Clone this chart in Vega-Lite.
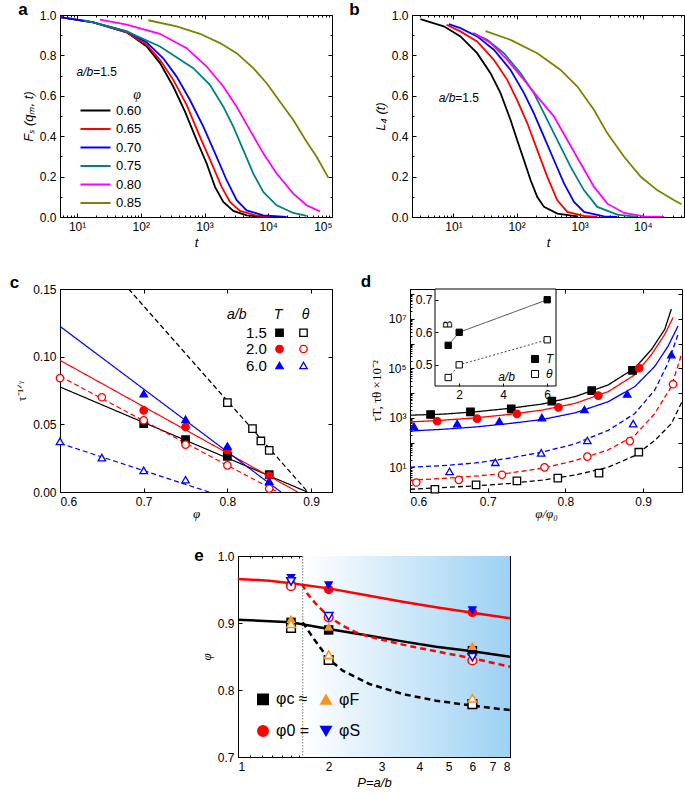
{
"$schema":"https://vega.github.io/schema/vega-lite/v6.json",
"padding":{"left":9,"top":0,"right":0,"bottom":0},
"config":{
 "font":"Liberation Sans",
 "view":{"stroke":"black","strokeWidth":1},
 "axis":{"grid":false,"domainColor":"black","tickColor":"black","labelColor":"black","titleColor":"black","labelFontSize":12,"titleFontSize":13,"titleFontWeight":"normal","tickSize":-4,"labelPadding":8,"labelFont":"Liberation Sans","titleFont":"Liberation Sans"},
 "legend":{"labelColor":"black","titleColor":"black","labelFont":"Liberation Sans","titleFont":"Liberation Sans"},
 "title":{"fontSize":17,"fontWeight":"bold","anchor":"start","frame":"bounds","color":"black","baseline":"alphabetic","offset":0}
},
"datasets":{
"a":[
{"phi":"0.60","t":5.4,"F":0.99},{"phi":"0.60","t":18,"F":0.964},{"phi":"0.60","t":60,"F":0.914},{"phi":"0.60","t":124,"F":0.844},{"phi":"0.60","t":200,"F":0.762},{"phi":"0.60","t":323,"F":0.646},{"phi":"0.60","t":494,"F":0.522},{"phi":"0.60","t":752,"F":0.381},{"phi":"0.60","t":1080,"F":0.265},{"phi":"0.60","t":1459,"F":0.149},{"phi":"0.60","t":1972,"F":0.075},{"phi":"0.60","t":2831,"F":0.03},{"phi":"0.60","t":4580,"F":0.008},{"phi":"0.60","t":9440,"F":0.0},
{"phi":"0.65","t":5.4,"F":0.99},{"phi":"0.65","t":18,"F":0.964},{"phi":"0.65","t":60,"F":0.914},{"phi":"0.65","t":124,"F":0.853},{"phi":"0.65","t":200,"F":0.778},{"phi":"0.65","t":323,"F":0.679},{"phi":"0.65","t":524,"F":0.555},{"phi":"0.65","t":849,"F":0.397},{"phi":"0.65","t":1294,"F":0.265},{"phi":"0.65","t":1857,"F":0.149},{"phi":"0.65","t":2508,"F":0.075},{"phi":"0.65","t":3600,"F":0.03},{"phi":"0.65","t":6570,"F":0.007},{"phi":"0.65","t":13540,"F":0.0},
{"phi":"0.70","t":5.4,"F":0.99},{"phi":"0.70","t":18,"F":0.964},{"phi":"0.70","t":60,"F":0.919},{"phi":"0.70","t":124,"F":0.864},{"phi":"0.70","t":225,"F":0.786},{"phi":"0.70","t":365,"F":0.695},{"phi":"0.70","t":591,"F":0.579},{"phi":"0.70","t":958,"F":0.447},{"phi":"0.70","t":1549,"F":0.298},{"phi":"0.70","t":2224,"F":0.182},{"phi":"0.70","t":3192,"F":0.083},{"phi":"0.70","t":4580,"F":0.033},{"phi":"0.70","t":8355,"F":0.008},{"phi":"0.70","t":19420,"F":0.0},
{"phi":"0.75","t":12.5,"F":0.974},{"phi":"0.75","t":18,"F":0.964},{"phi":"0.75","t":60,"F":0.919},{"phi":"0.75","t":200,"F":0.844},{"phi":"0.75","t":667,"F":0.737},{"phi":"0.75","t":1216,"F":0.654},{"phi":"0.75","t":1972,"F":0.546},{"phi":"0.75","t":2831,"F":0.447},{"phi":"0.75","t":4064,"F":0.331},{"phi":"0.75","t":5825,"F":0.215},{"phi":"0.75","t":8355,"F":0.124},{"phi":"0.75","t":13540,"F":0.058},{"phi":"0.75","t":24720,"F":0.02},{"phi":"0.75","t":40000,"F":0.005},
{"phi":"0.80","t":22.9,"F":0.977},{"phi":"0.80","t":60,"F":0.952},{"phi":"0.80","t":200,"F":0.907},{"phi":"0.80","t":524,"F":0.836},{"phi":"0.80","t":1080,"F":0.745},{"phi":"0.80","t":1972,"F":0.646},{"phi":"0.80","t":3192,"F":0.546},{"phi":"0.80","t":5165,"F":0.43},{"phi":"0.80","t":8355,"F":0.315},{"phi":"0.80","t":13540,"F":0.215},{"phi":"0.80","t":24720,"F":0.116},{"phi":"0.80","t":40000,"F":0.058},{"phi":"0.80","t":64860,"F":0.028},
{"phi":"0.85","t":131,"F":0.974},{"phi":"0.85","t":365,"F":0.944},{"phi":"0.85","t":849,"F":0.907},{"phi":"0.85","t":1749,"F":0.861},{"phi":"0.85","t":3192,"F":0.811},{"phi":"0.85","t":5825,"F":0.737},{"phi":"0.85","t":9440,"F":0.662},{"phi":"0.85","t":15280,"F":0.571},{"phi":"0.85","t":24720,"F":0.48},{"phi":"0.85","t":40000,"F":0.373},{"phi":"0.85","t":57400,"F":0.298},{"phi":"0.85","t":87500,"F":0.195}
],
"b":[
{"phi":"0.60","t":2.99,"L":0.98},{"phi":"0.60","t":7.02,"L":0.944},{"phi":"0.60","t":12.9,"L":0.894},{"phi":"0.60","t":23.7,"L":0.811},{"phi":"0.60","t":38.6,"L":0.712},{"phi":"0.60","t":55.7,"L":0.613},{"phi":"0.60","t":80.3,"L":0.48},{"phi":"0.60","t":102,"L":0.381},{"phi":"0.60","t":131,"L":0.281},{"phi":"0.60","t":167,"L":0.182},{"phi":"0.60","t":213,"L":0.099},{"phi":"0.60","t":272,"L":0.05},{"phi":"0.60","t":442,"L":0.017},{"phi":"0.60","t":918,"L":0.003},
{"phi":"0.65","t":7.74,"L":0.952},{"phi":"0.65","t":12.9,"L":0.919},{"phi":"0.65","t":23.7,"L":0.869},{"phi":"0.65","t":43.6,"L":0.778},{"phi":"0.65","t":71.1,"L":0.679},{"phi":"0.65","t":102,"L":0.579},{"phi":"0.65","t":148,"L":0.464},{"phi":"0.65","t":213,"L":0.331},{"phi":"0.65","t":307,"L":0.199},{"phi":"0.65","t":442,"L":0.083},{"phi":"0.65","t":637,"L":0.025},{"phi":"0.65","t":1172,"L":0.005},{"phi":"0.65","t":1906,"L":0.0},
{"phi":"0.70","t":8.43,"L":0.955},{"phi":"0.70","t":12.9,"L":0.935},{"phi":"0.70","t":23.7,"L":0.894},{"phi":"0.70","t":43.6,"L":0.828},{"phi":"0.70","t":80.3,"L":0.728},{"phi":"0.70","t":131,"L":0.613},{"phi":"0.70","t":188,"L":0.513},{"phi":"0.70","t":272,"L":0.397},{"phi":"0.70","t":392,"L":0.281},{"phi":"0.70","t":564,"L":0.166},{"phi":"0.70","t":813,"L":0.075},{"phi":"0.70","t":1172,"L":0.025},{"phi":"0.70","t":2432,"L":0.003},{"phi":"0.70","t":3960,"L":0.0},
{"phi":"0.75","t":19.8,"L":0.911},{"phi":"0.75","t":34.2,"L":0.877},{"phi":"0.75","t":62.9,"L":0.811},{"phi":"0.75","t":116,"L":0.712},{"phi":"0.75","t":188,"L":0.613},{"phi":"0.75","t":272,"L":0.513},{"phi":"0.75","t":442,"L":0.381},{"phi":"0.75","t":720,"L":0.248},{"phi":"0.75","t":1172,"L":0.132},{"phi":"0.75","t":1906,"L":0.05},{"phi":"0.75","t":3960,"L":0.012},{"phi":"0.75","t":8230,"L":0.0},
{"phi":"0.80","t":21.0,"L":0.911},{"phi":"0.80","t":38.6,"L":0.862},{"phi":"0.80","t":71.1,"L":0.778},{"phi":"0.80","t":131,"L":0.679},{"phi":"0.80","t":213,"L":0.596},{"phi":"0.80","t":392,"L":0.497},{"phi":"0.80","t":637,"L":0.381},{"phi":"0.80","t":1037,"L":0.265},{"phi":"0.80","t":1690,"L":0.149},{"phi":"0.80","t":2747,"L":0.066},{"phi":"0.80","t":5055,"L":0.02},{"phi":"0.80","t":10490,"L":0.003},{"phi":"0.80","t":21800,"L":0.0},
{"phi":"0.85","t":32.2,"L":0.92},{"phi":"0.85","t":80.3,"L":0.877},{"phi":"0.85","t":213,"L":0.811},{"phi":"0.85","t":499,"L":0.728},{"phi":"0.85","t":918,"L":0.646},{"phi":"0.85","t":1690,"L":0.53},{"phi":"0.85","t":2747,"L":0.414},{"phi":"0.85","t":5055,"L":0.298},{"phi":"0.85","t":9290,"L":0.199},{"phi":"0.85","t":17100,"L":0.132},{"phi":"0.85","t":31400,"L":0.083},{"phi":"0.85","t":41100,"L":0.063}
],
"c_lines":[
{"key":"T1.5","kind":"T","phi":0.6,"v":0.0776},{"key":"T1.5","kind":"T","phi":0.8955,"v":0},
{"key":"T2.0","kind":"T","phi":0.6,"v":0.0973},{"key":"T2.0","kind":"T","phi":0.884,"v":0},
{"key":"T6.0","kind":"T","phi":0.6,"v":0.1224},{"key":"T6.0","kind":"T","phi":0.864,"v":0},
{"key":"θ1.5","kind":"θ","phi":0.682,"v":0.15},{"key":"θ1.5","kind":"θ","phi":0.896,"v":0},
{"key":"θ2.0","kind":"θ","phi":0.6,"v":0.0855},{"key":"θ2.0","kind":"θ","phi":0.86,"v":0},
{"key":"θ6.0","kind":"θ","phi":0.6,"v":0.036},{"key":"θ6.0","kind":"θ","phi":0.778,"v":0}
],
"c_pts":[
{"key":"T1.5","phi":0.7,"v":0.0505},{"key":"T1.5","phi":0.75,"v":0.0387},{"key":"T1.5","phi":0.8,"v":0.0264},{"key":"T1.5","phi":0.85,"v":0.0128},
{"key":"θ1.5","phi":0.8,"v":0.066},{"key":"θ1.5","phi":0.83,"v":0.0468},{"key":"θ1.5","phi":0.84,"v":0.0377},{"key":"θ1.5","phi":0.85,"v":0.0308},
{"key":"T2.0","phi":0.7,"v":0.0603},{"key":"T2.0","phi":0.75,"v":0.048},{"key":"T2.0","phi":0.8,"v":0.031},{"key":"T2.0","phi":0.85,"v":0.012},
{"key":"θ2.0","phi":0.6,"v":0.0842},{"key":"θ2.0","phi":0.65,"v":0.07},{"key":"θ2.0","phi":0.7,"v":0.053},{"key":"θ2.0","phi":0.75,"v":0.035},{"key":"θ2.0","phi":0.8,"v":0.0197},{"key":"θ2.0","phi":0.85,"v":0.0025},
{"key":"T6.0","phi":0.7,"v":0.0727},{"key":"T6.0","phi":0.75,"v":0.0537},{"key":"T6.0","phi":0.8,"v":0.034},{"key":"T6.0","phi":0.85,"v":0.0081},
{"key":"θ6.0","phi":0.6,"v":0.0374},{"key":"θ6.0","phi":0.65,"v":0.0254},{"key":"θ6.0","phi":0.7,"v":0.016},{"key":"θ6.0","phi":0.75,"v":0.0091}
],
"d_lines":[
{"key":"T1.5","kind":"T","x":0.6,"y":1271},{"key":"T1.5","kind":"T","x":0.6415,"y":1396},{"key":"T1.5","kind":"T","x":0.6842,"y":1738},{"key":"T1.5","kind":"T","x":0.7269,"y":2377},{"key":"T1.5","kind":"T","x":0.7697,"y":3573},{"key":"T1.5","kind":"T","x":0.8124,"y":7129},{"key":"T1.5","kind":"T","x":0.8551,"y":21330},{"key":"T1.5","kind":"T","x":0.8893,"y":102100},{"key":"T1.5","kind":"T","x":0.9107,"y":571500},{"key":"T1.5","kind":"T","x":0.9278,"y":3750000},{"key":"T1.5","kind":"T","x":0.9363,"y":24550000},
{"key":"T2.0","kind":"T","x":0.6,"y":679},{"key":"T2.0","kind":"T","x":0.6415,"y":794},{"key":"T2.0","kind":"T","x":0.6842,"y":991},{"key":"T2.0","kind":"T","x":0.7269,"y":1355},{"key":"T2.0","kind":"T","x":0.7697,"y":2037},{"key":"T2.0","kind":"T","x":0.8124,"y":3802},{"key":"T2.0","kind":"T","x":0.8551,"y":11400},{"key":"T2.0","kind":"T","x":0.8893,"y":54580},{"key":"T2.0","kind":"T","x":0.9107,"y":357300},{"key":"T2.0","kind":"T","x":0.9278,"y":2344000},{"key":"T2.0","kind":"T","x":0.9385,"y":11220000},
{"key":"T6.0","kind":"T","x":0.6,"y":292},{"key":"T6.0","kind":"T","x":0.6415,"y":341},{"key":"T6.0","kind":"T","x":0.6842,"y":425},{"key":"T6.0","kind":"T","x":0.7269,"y":581},{"key":"T6.0","kind":"T","x":0.7697,"y":845},{"key":"T6.0","kind":"T","x":0.8124,"y":1585},{"key":"T6.0","kind":"T","x":0.8551,"y":4457},{"key":"T6.0","kind":"T","x":0.8893,"y":18240},{"key":"T6.0","kind":"T","x":0.915,"y":119400},{"key":"T6.0","kind":"T","x":0.9321,"y":783300},{"key":"T6.0","kind":"T","x":0.9449,"y":5130000},
{"key":"θ6.0","kind":"θ","x":0.6,"y":10.0},{"key":"θ6.0","kind":"θ","x":0.6415,"y":11.6},{"key":"θ6.0","kind":"θ","x":0.6842,"y":14.9},{"key":"θ6.0","kind":"θ","x":0.7269,"y":23.1},{"key":"θ6.0","kind":"θ","x":0.7697,"y":40.6},{"key":"θ6.0","kind":"θ","x":0.8124,"y":88.7},{"key":"θ6.0","kind":"θ","x":0.8551,"y":310},{"key":"θ6.0","kind":"θ","x":0.8893,"y":1486},{"key":"θ6.0","kind":"θ","x":0.915,"y":13340},{"key":"θ6.0","kind":"θ","x":0.9321,"y":163300},{"key":"θ6.0","kind":"θ","x":0.9449,"y":2344000},
{"key":"θ2.0","kind":"θ","x":0.6,"y":3.01},{"key":"θ2.0","kind":"θ","x":0.6415,"y":3.52},{"key":"θ2.0","kind":"θ","x":0.6842,"y":4.39},{"key":"θ2.0","kind":"θ","x":0.7269,"y":5.81},{"key":"θ2.0","kind":"θ","x":0.7697,"y":9.02},{"key":"θ2.0","kind":"θ","x":0.8124,"y":18.5},{"key":"θ2.0","kind":"θ","x":0.8551,"y":50.5},{"key":"θ2.0","kind":"θ","x":0.8893,"y":194},{"key":"θ2.0","kind":"θ","x":0.915,"y":1486},{"key":"θ2.0","kind":"θ","x":0.9363,"y":18240},{"key":"θ2.0","kind":"θ","x":0.95,"y":417800},
{"key":"θ1.5","kind":"θ","x":0.6,"y":1.29},{"key":"θ1.5","kind":"θ","x":0.6415,"y":1.51},{"key":"θ1.5","kind":"θ","x":0.6842,"y":1.77},{"key":"θ1.5","kind":"θ","x":0.7269,"y":2.2},{"key":"θ1.5","kind":"θ","x":0.7697,"y":3.01},{"key":"θ1.5","kind":"θ","x":0.8124,"y":4.82},{"key":"θ1.5","kind":"θ","x":0.8551,"y":10.0},{"key":"θ1.5","kind":"θ","x":0.8893,"y":29.6},{"key":"θ1.5","kind":"θ","x":0.915,"y":121},{"key":"θ1.5","kind":"θ","x":0.9363,"y":581},{"key":"θ1.5","kind":"θ","x":0.95,"y":4457}
],
"d_pts":[
{"key":"T1.5","x":0.6265,"y":1355},{"key":"T1.5","x":0.6778,"y":1738},{"key":"T1.5","x":0.7303,"y":2307},{"key":"T1.5","x":0.7825,"y":4742},{"key":"T1.5","x":0.8338,"y":12530},{"key":"T1.5","x":0.8863,"y":82000},
{"key":"T2.0","x":0.635,"y":723},{"key":"T2.0","x":0.6863,"y":929},{"key":"T2.0","x":0.7376,"y":1442},{"key":"T2.0","x":0.791,"y":2612},{"key":"T2.0","x":0.8423,"y":7834},{"key":"T2.0","x":0.8949,"y":102100},
{"key":"T6.0","x":0.6051,"y":452},{"key":"T6.0","x":0.6607,"y":581},{"key":"T6.0","x":0.715,"y":723},{"key":"T6.0","x":0.7697,"y":1021},{"key":"T6.0","x":0.8244,"y":2168},{"key":"T6.0","x":0.8795,"y":9141},{"key":"T6.0","x":0.9363,"y":357000},
{"key":"θ6.0","x":0.6509,"y":6.79},{"key":"θ6.0","x":0.7098,"y":15.85},{"key":"θ6.0","x":0.7688,"y":38.1},{"key":"θ6.0","x":0.8282,"y":121},{"key":"θ6.0","x":0.8872,"y":581},
{"key":"θ2.0","x":0.6081,"y":2.42},{"key":"θ2.0","x":0.6628,"y":3.1},{"key":"θ2.0","x":0.7184,"y":4.97},{"key":"θ2.0","x":0.7731,"y":9.91},{"key":"θ2.0","x":0.8282,"y":27.0},{"key":"θ2.0","x":0.8829,"y":114},{"key":"θ2.0","x":0.9385,"y":22700},
{"key":"θ1.5","x":0.632,"y":1.29},{"key":"θ1.5","x":0.685,"y":1.94},{"key":"θ1.5","x":0.7376,"y":2.82},{"key":"θ1.5","x":0.7902,"y":3.63},{"key":"θ1.5","x":0.8432,"y":5.81},{"key":"θ1.5","x":0.8944,"y":40.6}
],
"d_inset":[
{"ser":"T","ab":1.5,"B":0.56},{"ser":"T","ab":2,"B":0.6},{"ser":"T","ab":6,"B":0.7},
{"ser":"θ","ab":1.5,"B":0.461},{"ser":"θ","ab":2,"B":0.5},{"ser":"θ","ab":6,"B":0.577}
],
"e_lines":[
{"curve":"φ0 T","P":1,"phi":0.9657},{"curve":"φ0 T","P":1.271,"phi":0.9632},{"curve":"φ0 T","P":1.5,"phi":0.9592},{"curve":"φ0 T","P":2,"phi":0.9517},{"curve":"φ0 T","P":2.729,"phi":0.9408},{"curve":"φ0 T","P":3.521,"phi":0.9318},{"curve":"φ0 T","P":4.543,"phi":0.9234},{"curve":"φ0 T","P":6,"phi":0.9154},{"curve":"φ0 T","P":8,"phi":0.907},
{"curve":"φc T","P":1,"phi":0.905},{"curve":"φc T","P":1.5,"phi":0.901},{"curve":"φc T","P":2,"phi":0.891},{"curve":"φc T","P":2.729,"phi":0.881},{"curve":"φc T","P":3.521,"phi":0.8726},{"curve":"φc T","P":4.543,"phi":0.8647},{"curve":"φc T","P":6,"phi":0.8577},{"curve":"φc T","P":8,"phi":0.8497},
{"curve":"φ0 θ","P":1.63,"phi":0.958},{"curve":"φ0 θ","P":1.703,"phi":0.9433},{"curve":"φ0 θ","P":1.815,"phi":0.9284},{"curve":"φ0 θ","P":2,"phi":0.9095},{"curve":"φ0 θ","P":2.226,"phi":0.896},{"curve":"φ0 θ","P":2.465,"phi":0.886},{"curve":"φ0 θ","P":2.729,"phi":0.8796},{"curve":"φ0 θ","P":3.521,"phi":0.8677},{"curve":"φ0 θ","P":4.543,"phi":0.8577},{"curve":"φ0 θ","P":6,"phi":0.8473},{"curve":"φ0 θ","P":8,"phi":0.8348},
{"curve":"φc θ","P":1.64,"phi":0.901},{"curve":"φc θ","P":1.77,"phi":0.8786},{"curve":"φc θ","P":2,"phi":0.8463},{"curve":"φc θ","P":2.226,"phi":0.8289},{"curve":"φc θ","P":2.729,"phi":0.809},{"curve":"φc θ","P":3.521,"phi":0.794},{"curve":"φc θ","P":4.543,"phi":0.7841},{"curve":"φc θ","P":6,"phi":0.7766},{"curve":"φc θ","P":8,"phi":0.77}
],
"e_pts":[
{"type":"φ0 =","kind":"T","P":1.5,"phi":0.958},{"type":"φ0 =","kind":"T","P":2,"phi":0.95},{"type":"φ0 =","kind":"T","P":6,"phi":0.916},
{"type":"φS","kind":"T","P":1.5,"phi":0.967},{"type":"φS","kind":"T","P":2,"phi":0.956},{"type":"φS","kind":"T","P":6,"phi":0.919},
{"type":"φc ≈","kind":"T","P":1.5,"phi":0.901},{"type":"φc ≈","kind":"T","P":2,"phi":0.8896},{"type":"φc ≈","kind":"T","P":6,"phi":0.8587},
{"type":"φF","kind":"T","P":1.5,"phi":0.906},{"type":"φF","kind":"T","P":2,"phi":0.8945},{"type":"φF","kind":"T","P":6,"phi":0.866},
{"type":"φ0 =","kind":"θ","P":1.5,"phi":0.955},{"type":"φ0 =","kind":"θ","P":2,"phi":0.9085},{"type":"φ0 =","kind":"θ","P":6,"phi":0.844},
{"type":"φS","kind":"θ","P":1.5,"phi":0.962},{"type":"φS","kind":"θ","P":2,"phi":0.91},{"type":"φS","kind":"θ","P":6,"phi":0.849},
{"type":"φc ≈","kind":"θ","P":1.5,"phi":0.8925},{"type":"φc ≈","kind":"θ","P":2,"phi":0.8448},{"type":"φc ≈","kind":"θ","P":6,"phi":0.779},
{"type":"φF","kind":"θ","P":1.5,"phi":0.899},{"type":"φF","kind":"θ","P":2,"phi":0.8527},{"type":"φF","kind":"θ","P":6,"phi":0.7876}
]
},
"spacing":22,
"resolve":{"scale":{"color":"independent","stroke":"independent","fill":"independent","shape":"independent","strokeDash":"independent"},"legend":{"color":"independent","stroke":"independent","fill":"independent","shape":"independent","strokeDash":"independent"}},
"vconcat":[
{"hconcat":[
 {"width":272,"height":202,"title":{"text":"a","dx":-4,"offset":-10},
  "layer":[
   {"data":{"name":"a"},"mark":{"type":"line","strokeWidth":1.8,"clip":true},
    "encoding":{
     "x":{"field":"t","type":"quantitative","scale":{"type":"log","domain":[5.4,100000],"nice":false},"axis":{"values":[10,100,1000,10000,100000],"labelExpr":"'10' + ['⁰','¹','²','³','⁴','⁵','⁶','⁷','⁸'][round(log(datum.value)/LN10)]","title":"t","titleFontStyle":"italic"}},
     "y":{"field":"F","type":"quantitative","scale":{"domain":[0,1],"nice":false},"axis":{"values":[0,0.2,0.4,0.6,0.8,1],"format":".1f","title":"Fₛ (qₘ, t)","titleFontStyle":"italic"}},
     "color":{"field":"phi","type":"nominal","scale":{"domain":["0.60","0.65","0.70","0.75","0.80","0.85"],"range":["#000000","#ff0000","#0000ff","#008080","#ff00ff","#808000"]},
      "legend":{"orient":"none","legendX":27,"legendY":73,"title":"φ","titleFont":"Liberation Serif","titleFontStyle":"italic","titleFontSize":14,"titleFontWeight":"normal","titleAnchor":"end","titlePadding":0,"symbolType":"M-2,0H2","symbolStrokeWidth":2,"symbolSize":225,"labelFontSize":13,"rowPadding":2.5,"labelOffset":12}}
    }},
   {"data":{"values":[{}]},"mark":{"type":"text","text":"a/b","align":"right","baseline":"middle","fontStyle":"italic","fontSize":12},"encoding":{"x":{"datum":17.9,"type":"quantitative","axis":{"orient":"bottom","values":[6,7,8,9,20,30,40,50,60,70,80,90,200,300,400,500,600,700,800,900,2000,3000,4000,5000,6000,7000,8000,9000,20000,30000,40000,50000,60000,70000,80000,90000],"labels":false,"domain":false,"title":null,"tickSize":-2}},"y":{"datum":0.72,"type":"quantitative","axis":{"orient":"left","values":[0.1,0.3,0.5,0.7,0.9],"labels":false,"domain":false,"title":null,"tickSize":-2}}}},
   {"data":{"values":[{}]},"mark":{"type":"text","text":"=1.5","align":"left","baseline":"middle","fontSize":12},"encoding":{"x":{"datum":17.9,"type":"quantitative","axis":{"orient":"top","values":[10,100,1000,10000,100000],"labels":false,"domain":false,"title":null,"tickSize":-4}},"y":{"datum":0.72,"type":"quantitative","axis":{"orient":"right","values":[0,0.2,0.4,0.6,0.8,1],"labels":false,"domain":false,"title":null,"tickSize":-4}}}},
   {"data":{"values":[{}]},"mark":{"type":"text","text":""},"encoding":{"x":{"datum":17.9,"type":"quantitative","axis":{"orient":"top","values":[6,7,8,9,20,30,40,50,60,70,80,90,200,300,400,500,600,700,800,900,2000,3000,4000,5000,6000,7000,8000,9000,20000,30000,40000,50000,60000,70000,80000,90000],"labels":false,"domain":false,"title":null,"tickSize":-2}},"y":{"datum":0.72,"type":"quantitative","axis":{"orient":"right","values":[0.1,0.3,0.5,0.7,0.9],"labels":false,"domain":false,"title":null,"tickSize":-2}}}}
  ],
  "resolve":{"axis":{"x":"independent","y":"independent"}}},
 {"width":272,"height":202,"title":{"text":"b","dx":-25,"offset":-10},
  "layer":[
   {"data":{"name":"b"},"mark":{"type":"line","strokeWidth":1.8,"clip":true},
    "encoding":{
     "x":{"field":"t","type":"quantitative","scale":{"type":"log","domain":[2.2,45000],"nice":false},"axis":{"values":[10,100,1000,10000],"labelExpr":"'10' + ['⁰','¹','²','³','⁴','⁵','⁶','⁷','⁸'][round(log(datum.value)/LN10)]","title":"t","titleFontStyle":"italic"}},
     "y":{"field":"L","type":"quantitative","scale":{"domain":[0,1],"nice":false},"axis":{"values":[0,0.2,0.4,0.6,0.8,1],"format":".1f","title":"L₄ (t)","titleFontStyle":"italic"}},
     "color":{"field":"phi","type":"nominal","scale":{"domain":["0.60","0.65","0.70","0.75","0.80","0.85"],"range":["#000000","#ff0000","#0000ff","#008080","#ff00ff","#808000"]},"legend":null}
    }},
   {"data":{"values":[{}]},"mark":{"type":"text","text":"a/b","align":"right","baseline":"middle","fontStyle":"italic","fontSize":12},"encoding":{"x":{"datum":10.7,"type":"quantitative","axis":{"orient":"bottom","values":[3,4,5,6,7,8,9,20,30,40,50,60,70,80,90,200,300,400,500,600,700,800,900,2000,3000,4000,5000,6000,7000,8000,9000,20000,30000,40000],"labels":false,"domain":false,"title":null,"tickSize":-2}},"y":{"datum":0.59,"type":"quantitative","axis":{"orient":"left","values":[0.1,0.3,0.5,0.7,0.9],"labels":false,"domain":false,"title":null,"tickSize":-2}}}},
   {"data":{"values":[{}]},"mark":{"type":"text","text":"=1.5","align":"left","baseline":"middle","fontSize":12},"encoding":{"x":{"datum":10.7,"type":"quantitative","axis":{"orient":"top","values":[10,100,1000,10000],"labels":false,"domain":false,"title":null,"tickSize":-4}},"y":{"datum":0.59,"type":"quantitative","axis":{"orient":"right","values":[0,0.2,0.4,0.6,0.8,1],"labels":false,"domain":false,"title":null,"tickSize":-4}}}},
   {"data":{"values":[{}]},"mark":{"type":"text","text":""},"encoding":{"x":{"datum":10.7,"type":"quantitative","axis":{"orient":"top","values":[3,4,5,6,7,8,9,20,30,40,50,60,70,80,90,200,300,400,500,600,700,800,900,2000,3000,4000,5000,6000,7000,8000,9000,20000,30000,40000],"labels":false,"domain":false,"title":null,"tickSize":-2}},"y":{"datum":0.59,"type":"quantitative","axis":{"orient":"right","values":[0.1,0.3,0.5,0.7,0.9],"labels":false,"domain":false,"title":null,"tickSize":-2}}}}
  ],
  "resolve":{"axis":{"x":"independent","y":"independent"}}}
 ],"bounds":"flush","spacing":80,
 "resolve":{"scale":{"color":"independent"},"legend":{"color":"independent"}}},
{"vconcat":[
{"hconcat":[
 {"width":272,"height":203,"title":{"text":"c","dx":-6,"offset":-9},
  "layer":[
   {"data":{"name":"c_lines"},"mark":{"type":"line","strokeWidth":1.2,"clip":true},
    "encoding":{
     "x":{"field":"phi","type":"quantitative","scale":{"domain":[0.6,0.925],"nice":false,"zero":false},"axis":{"values":[0.6,0.7,0.8,0.9],"format":".1f","title":"φ","titleFont":"Liberation Serif","titleFontStyle":"italic","titlePadding":0}},
     "y":{"field":"v","type":"quantitative","scale":{"domain":[0,0.15],"nice":false},"axis":{"values":[0,0.05,0.1,0.15],"format":".2f","title":"τ⁻¹ᐟᵞ","titleFont":"Liberation Serif","titleFontSize":12}},
     "stroke":{"field":"key","type":"nominal","scale":{"domain":["1.5","T1.5","θ1.5","2.0","T2.0","θ2.0","6.0","T6.0","θ6.0"],"range":["transparent","black","black","transparent","red","red","transparent","blue","blue"]}},
     "strokeDash":{"field":"kind","type":"nominal","scale":{"domain":["T","θ"],"range":[[1,0],[5,3]]},"legend":null}
    }},
   {"data":{"name":"c_pts"},"mark":{"type":"point","filled":true,"size":55,"strokeWidth":1.3,"opacity":1},
    "encoding":{
     "x":{"field":"phi","type":"quantitative","axis":null},
     "y":{"field":"v","type":"quantitative","axis":null},
     "stroke":{"field":"key","type":"nominal","scale":{"domain":["1.5","T1.5","θ1.5","2.0","T2.0","θ2.0","6.0","T6.0","θ6.0"],"range":["transparent","black","black","transparent","red","red","transparent","blue","blue"]},
      "legend":{"orient":"none","legendX":167,"legendY":19,"direction":"horizontal","columns":3,"columnPadding":5,"rowPadding":0.5,"labelExpr":"length(datum.value)==3 ? datum.value : ''","labelFontSize":15,"title":"\u00a0\u00a0a/b\u00a0\u00a0\u00a0\u00a0\u00a0\u00a0\u00a0T\u00a0\u00a0\u00a0\u00a0\u00a0θ","titleFontStyle":"italic","titleFontWeight":"normal","titleFontSize":14,"titlePadding":3,"symbolSize":55,"symbolStrokeWidth":1.3,"labelOffset":4}},
     "fill":{"field":"key","type":"nominal","scale":{"domain":["1.5","T1.5","θ1.5","2.0","T2.0","θ2.0","6.0","T6.0","θ6.0"],"range":["transparent","black","white","transparent","red","white","transparent","blue","white"]}},
     "shape":{"field":"key","type":"nominal","scale":{"domain":["1.5","T1.5","θ1.5","2.0","T2.0","θ2.0","6.0","T6.0","θ6.0"],"range":["circle","square","square","circle","circle","circle","circle","triangle-up","triangle-up"]}}
    }},
   {"data":{"values":[{}]},"mark":{"type":"text","text":""},"encoding":{"x":{"datum":0.7,"type":"quantitative","axis":{"orient":"top","values":[0.6,0.7,0.8,0.9],"labels":false,"domain":false,"title":null,"tickSize":-4}},"y":{"datum":0.05,"type":"quantitative","axis":{"orient":"right","values":[0,0.05,0.1,0.15],"labels":false,"domain":false,"title":null,"tickSize":-4}}}}
  ],
  "resolve":{"axis":{"x":"independent","y":"independent"}}},
 {"width":272,"height":203,"title":{"text":"d","dx":-10,"offset":-2},
  "layer":[
   {"layer":[
    {"data":{"name":"d_lines"},"mark":{"type":"line","strokeWidth":1.3,"clip":true},
     "encoding":{
      "x":{"field":"x","type":"quantitative","scale":{"domain":[0.6,0.95],"nice":false,"zero":false},"axis":{"values":[0.6,0.7,0.8,0.9],"format":".1f","title":"φ/φ₀","titleFont":"Liberation Serif","titleFontStyle":"italic","titlePadding":0}},
      "y":{"field":"y","type":"quantitative","scale":{"type":"log","domain":[1,160000000],"nice":false},"axis":{"values":[10,1000,100000,10000000],"labelExpr":"'10' + ['⁰','¹','²','³','⁴','⁵','⁶','⁷','⁸'][round(log(datum.value)/LN10)]","title":"τT, τθ ×10⁻²","titleFont":"Liberation Serif"}},
      "stroke":{"field":"key","type":"nominal","scale":{"domain":["T1.5","T2.0","T6.0","θ1.5","θ2.0","θ6.0"],"range":["black","red","blue","black","red","blue"]},"legend":null},
      "strokeDash":{"field":"kind","type":"nominal","scale":{"domain":["T","θ"],"range":[[1,0],[5,3]]},"legend":null}
     }},
    {"data":{"name":"d_pts"},"mark":{"type":"point","filled":true,"size":55,"strokeWidth":1.3,"opacity":1},
     "encoding":{
      "x":{"field":"x","type":"quantitative","axis":null},
      "y":{"field":"y","type":"quantitative","axis":null},
      "stroke":{"field":"key","type":"nominal","scale":{"domain":["T1.5","T2.0","T6.0","θ1.5","θ2.0","θ6.0"],"range":["black","red","blue","black","red","blue"]},"legend":null},
      "fill":{"field":"key","type":"nominal","scale":{"domain":["T1.5","T2.0","T6.0","θ1.5","θ2.0","θ6.0"],"range":["black","red","blue","white","white","white"]},"legend":null},
      "shape":{"field":"key","type":"nominal","scale":{"domain":["T1.5","T2.0","T6.0","θ1.5","θ2.0","θ6.0"],"range":["square","circle","triangle-up","square","circle","triangle-up"]},"legend":null}
     }},
    {"data":{"values":[{}]},"mark":{"type":"text","text":""},"encoding":{"x":{"datum":0.7,"type":"quantitative","axis":{"orient":"top","values":[0.6,0.7,0.8,0.9],"labels":false,"domain":false,"title":null,"tickSize":-4}},"y":{"datum":100,"type":"quantitative","axis":{"orient":"left","values":[1,100,10000,1000000,100000000],"labels":false,"domain":false,"title":null,"tickSize":-4}}}},
    {"data":{"values":[{}]},"mark":{"type":"text","text":""},"encoding":{"x":{"datum":0.7,"type":"quantitative","axis":null},"y":{"datum":100,"type":"quantitative","axis":{"orient":"left","values":[2,3,4,5,6,7,8,9,20,30,40,50,60,70,80,90,200,300,400,500,600,700,800,900,2000,3000,4000,5000,6000,7000,8000,9000,20000,30000,40000,50000,60000,70000,80000,90000,200000,300000,400000,500000,600000,700000,800000,900000,2000000,3000000,4000000,5000000,6000000,7000000,8000000,9000000,20000000,30000000,40000000,50000000,60000000,70000000,80000000,90000000],"labels":false,"domain":false,"title":null,"tickSize":-2}}}},
    {"data":{"values":[{}]},"mark":{"type":"text","text":""},"encoding":{"x":{"datum":0.7,"type":"quantitative","axis":null},"y":{"datum":100,"type":"quantitative","axis":{"orient":"right","values":[1,10,100,1000,10000,100000,1000000,10000000,100000000],"labels":false,"domain":false,"title":null,"tickSize":-4}}}}
   ],
   "resolve":{"axis":{"x":"independent","y":"independent"}}},
   {"layer":[
    {"data":{"values":[{}]},"mark":{"type":"rect","fill":"white","stroke":"black","strokeWidth":1},
     "encoding":{"x":{"datum":0.9,"type":"quantitative"},"x2":{"datum":6.4},"y":{"datum":0.435,"type":"quantitative"},"y2":{"datum":0.733}}},
    {"data":{"name":"d_inset"},"mark":{"type":"line","color":"#444444","strokeWidth":1},
     "encoding":{
      "x":{"field":"ab","type":"quantitative"},
      "y":{"field":"B","type":"quantitative"},
      "strokeDash":{"field":"ser","type":"nominal","scale":{"domain":["T","θ"],"range":[[1,0],[2,2]]},"legend":null}
     }},
    {"data":{"name":"d_inset"},"mark":{"type":"point","filled":true,"shape":"square","stroke":"black","strokeWidth":1,"size":40,"opacity":1},
     "encoding":{
      "x":{"field":"ab","type":"quantitative","scale":{"domain":[0.9,6.4],"range":[25,146],"nice":false,"zero":false},"axis":{"orient":"bottom","offset":-106,"zindex":1,"values":[2,4,6],"format":"d","title":"a/b","titleX":96,"titleY":-10,"titleBaseline":"middle","titleFontStyle":"italic","titleFontSize":12,"domain":false,"tickSize":-3,"labelPadding":6}},
      "y":{"field":"B","type":"quantitative","scale":{"domain":[0.435,0.733],"range":[97,0],"nice":false,"zero":false},"axis":{"orient":"left","offset":-25,"zindex":1,"values":[0.5,0.6,0.7],"format":".1f","title":"B","titleX":12,"titleY":35,"titleBaseline":"middle","titleAlign":"center","titleFontSize":12,"domain":false,"tickSize":-3,"labelPadding":6}},
      "color":{"field":"ser","type":"nominal","scale":{"domain":["T","θ"],"range":["black","white"]},
       "legend":{"orient":"none","legendX":119,"legendY":64,"title":null,"symbolType":"square","symbolStrokeColor":"black","symbolStrokeWidth":1,"symbolSize":50,"labelFontSize":12,"labelFontStyle":"italic","rowPadding":3,"labelOffset":5}}
     }}
   ]}
  ],
  "resolve":{"scale":{"x":"independent","y":"independent","stroke":"independent","fill":"independent","shape":"independent","strokeDash":"independent"}}}
 ],"bounds":"flush","spacing":78,
 "resolve":{"scale":{"color":"independent","stroke":"independent","fill":"independent","shape":"independent","strokeDash":"independent"},"legend":{"color":"independent","stroke":"independent","fill":"independent","shape":"independent","strokeDash":"independent"}}},
{"hconcat":[
 {"width":178,"height":10,"view":{"stroke":null},"data":{"values":[]},"mark":"point"},
 {"width":272,"height":201,"title":{"text":"e","dx":-6,"offset":-15},
  "layer":[
   {"data":{"values":[{}]},"mark":{"type":"rect","fill":{"gradient":"linear","x1":0,"y1":0,"x2":1,"y2":0,"stops":[{"offset":0,"color":"#ffffff"},{"offset":1,"color":"#9dd1f3"}]}},
    "encoding":{
     "x":{"datum":1.64,"type":"quantitative","scale":{"type":"log","domain":[1,8],"nice":false},"axis":{"values":[1,2,3,4,5,6,7,8],"format":"d","title":"P=a/b","titleFontStyle":"italic"}},
     "x2":{"datum":8},
     "y":{"datum":0.7,"type":"quantitative","scale":{"domain":[0.7,1],"nice":false,"zero":false},"axis":{"values":[0.7,0.8,0.9,1.0],"format":".1f","title":"φ","titleFont":"Liberation Serif","titleFontStyle":"italic"}},
     "y2":{"datum":1.0}
    }},
   {"data":{"values":[{}]},"mark":{"type":"rule","color":"#777777","strokeDash":[1.5,1.5],"strokeWidth":1},"encoding":{"x":{"datum":1.64,"type":"quantitative","axis":{"orient":"top","values":[1,2,3,4,5,6,7,8],"labels":false,"domain":false,"title":null,"tickSize":-4}}}},
   {"data":{"values":[{}]},"mark":{"type":"text","text":""},"encoding":{"x":{"datum":2,"type":"quantitative","axis":{"orient":"bottom","values":[1.1,1.2,1.3,1.4,1.5,1.6,1.7,1.8,1.9],"labels":false,"domain":false,"title":null,"tickSize":-2}},"y":{"datum":0.8,"type":"quantitative","axis":{"orient":"right","values":[0.7,0.8,0.9,1.0],"labels":false,"domain":false,"title":null,"tickSize":-4}}}},
   {"data":{"values":[{}]},"mark":{"type":"text","text":""},"encoding":{"x":{"datum":2,"type":"quantitative","axis":{"orient":"top","values":[1.1,1.2,1.3,1.4,1.5,1.6,1.7,1.8,1.9],"labels":false,"domain":false,"title":null,"tickSize":-2}},"y":{"datum":0.8,"type":"quantitative","axis":null}}},
   {"data":{"name":"e_lines"},"transform":[{"filter":"datum.curve=='φ0 T'"}],"mark":{"type":"line","color":"red","strokeWidth":2.5,"clip":true},"encoding":{"x":{"field":"P","type":"quantitative","axis":null},"y":{"field":"phi","type":"quantitative","axis":null}}},
   {"data":{"name":"e_lines"},"transform":[{"filter":"datum.curve=='φc T'"}],"mark":{"type":"line","color":"black","strokeWidth":2.5,"clip":true},"encoding":{"x":{"field":"P","type":"quantitative","axis":null},"y":{"field":"phi","type":"quantitative","axis":null}}},
   {"data":{"name":"e_lines"},"transform":[{"filter":"datum.curve=='φ0 θ'"}],"mark":{"type":"line","color":"red","strokeWidth":2.5,"strokeDash":[6,4],"clip":true},"encoding":{"x":{"field":"P","type":"quantitative","axis":null},"y":{"field":"phi","type":"quantitative","axis":null}}},
   {"data":{"name":"e_lines"},"transform":[{"filter":"datum.curve=='φc θ'"}],"mark":{"type":"line","color":"black","strokeWidth":2.5,"strokeDash":[6,4],"clip":true},"encoding":{"x":{"field":"P","type":"quantitative","axis":null},"y":{"field":"phi","type":"quantitative","axis":null}}},
   {"data":{"name":"e_pts"},"transform":[{"filter":"datum.kind=='T'"}],"mark":{"type":"point","filled":true,"size":90,"opacity":1},
    "encoding":{
     "x":{"field":"P","type":"quantitative","axis":null},
     "y":{"field":"phi","type":"quantitative","axis":null},
     "color":{"field":"type","type":"nominal","scale":{"domain":["φc ≈","φF","φ0 =","φS"],"range":["black","#f7941d","red","blue"]},
      "legend":{"orient":"none","legendX":17,"legendY":135,"direction":"horizontal","columns":2,"columnPadding":7,"rowPadding":14,"labelFontSize":16,"symbolSize":110,"title":null,"labelOffset":5}},
     "shape":{"field":"type","type":"nominal","scale":{"domain":["φc ≈","φF","φ0 =","φS"],"range":["square","triangle-up","circle","triangle-down"]},
      "legend":{"orient":"none","legendX":17,"legendY":135,"direction":"horizontal","columns":2,"columnPadding":7,"rowPadding":14,"labelFontSize":16,"symbolSize":110,"title":null,"labelOffset":5}}
    }},
   {"data":{"name":"e_pts"},"transform":[{"filter":"datum.kind=='θ'"}],"mark":{"type":"point","filled":false,"fill":"white","strokeWidth":1.5,"size":75,"opacity":1},
    "encoding":{
     "x":{"field":"P","type":"quantitative","axis":null},
     "y":{"field":"phi","type":"quantitative","axis":null},
     "color":{"field":"type","type":"nominal"},
     "shape":{"field":"type","type":"nominal"}
    }}
  ],
  "resolve":{"axis":{"x":"independent","y":"independent"}}}
 ],"bounds":"flush","spacing":0,
 "resolve":{"scale":{"color":"independent","shape":"independent"},"legend":{"color":"independent","shape":"independent"}}}
],"spacing":25,
"resolve":{"scale":{"color":"independent","stroke":"independent","fill":"independent","shape":"independent","strokeDash":"independent"},"legend":{"color":"independent","stroke":"independent","fill":"independent","shape":"independent","strokeDash":"independent"}}}
]
}
